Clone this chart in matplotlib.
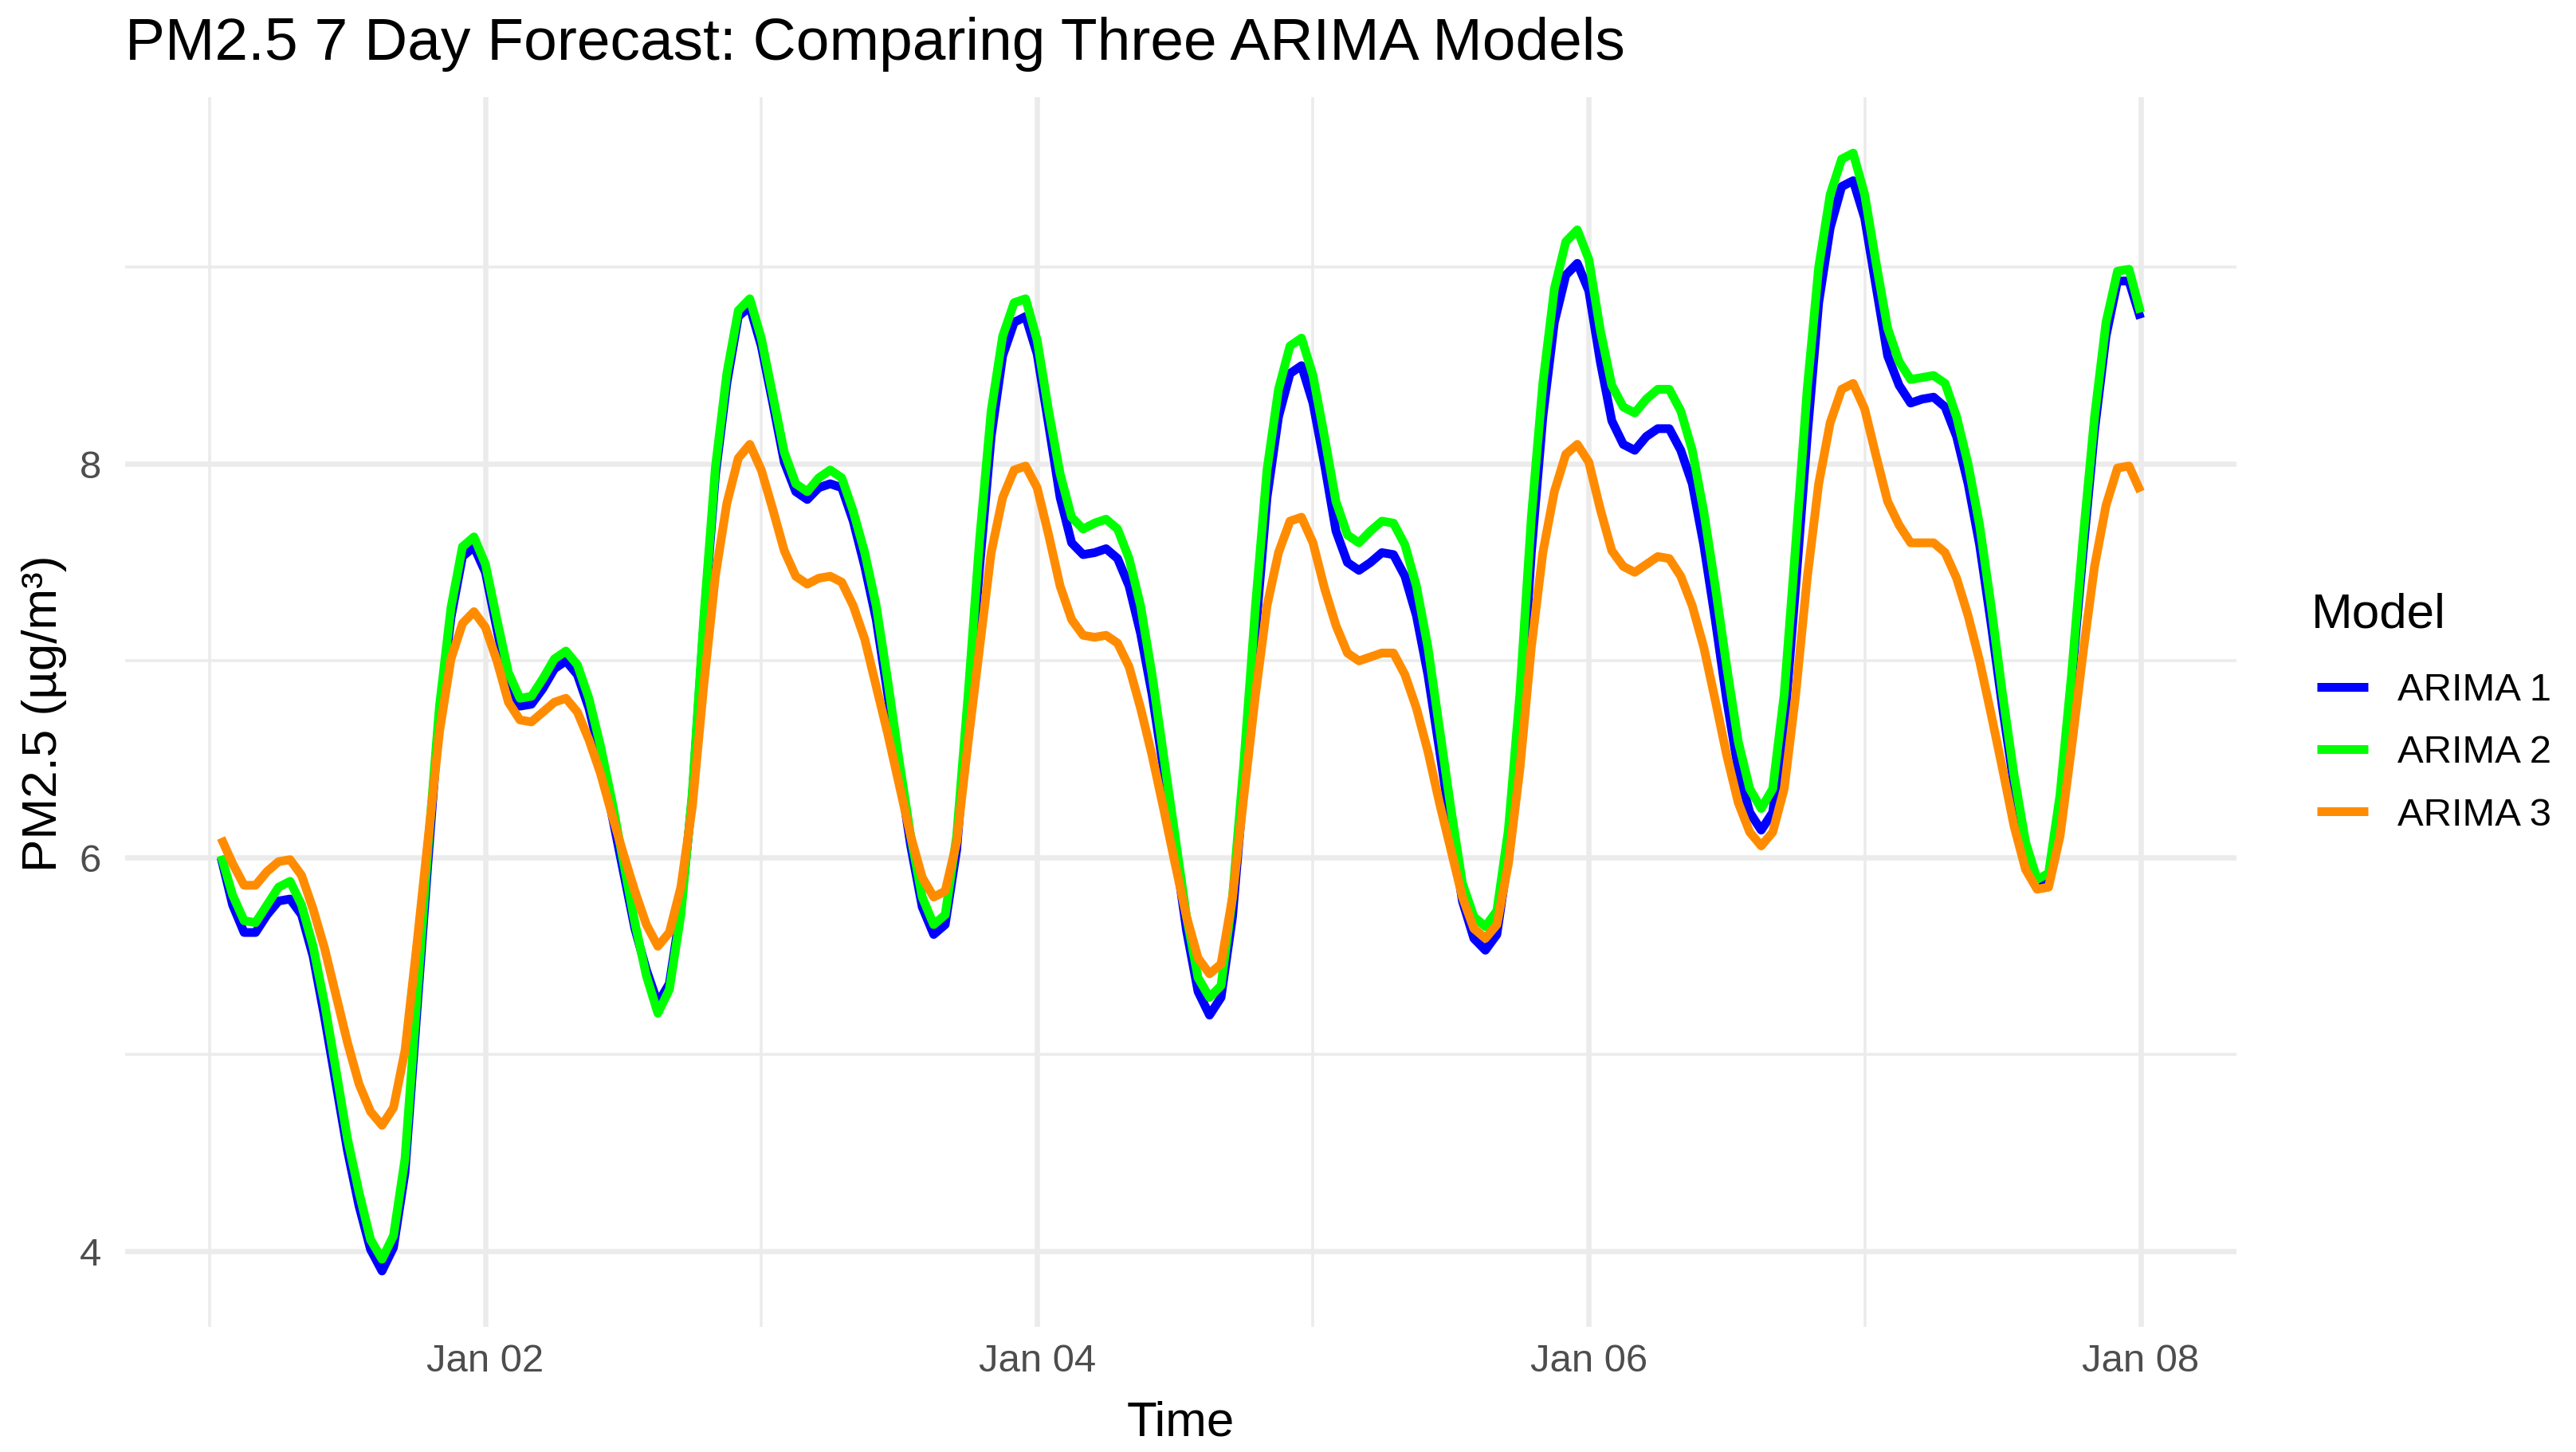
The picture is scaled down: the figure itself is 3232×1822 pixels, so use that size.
import numpy as np
import pandas as pd
import matplotlib
matplotlib.use("Agg")
import matplotlib.pyplot as plt
import matplotlib.dates as mdates

plt.rcParams['font.family'] = ['Liberation Sans', 'DejaVu Sans']

# hourly forecast, Jan 01 01:00 .. Jan 08 00:00
times = pd.date_range("2024-01-01 01:00", periods=168, freq="h")

arima1 = [
    6.00, 5.76, 5.62, 5.62, 5.71, 5.78, 5.79, 5.71, 5.50, 5.19, 4.85, 4.51,
    4.23, 4.01, 3.90, 4.02, 4.40, 5.19, 5.98, 6.74, 7.22, 7.53, 7.58, 7.45,
    7.16, 6.89, 6.77, 6.78, 6.86, 6.96, 7.00, 6.93, 6.76, 6.52, 6.22, 5.93,
    5.64, 5.43, 5.26, 5.36, 5.74, 6.31, 7.19, 7.94, 8.41, 8.75, 8.80, 8.60,
    8.31, 8.01, 7.86, 7.82, 7.88, 7.90, 7.88, 7.71, 7.48, 7.21, 6.83, 6.44,
    6.06, 5.75, 5.61, 5.66, 6.04, 6.76, 7.48, 8.14, 8.55, 8.72, 8.75, 8.56,
    8.20, 7.83, 7.60, 7.54, 7.55, 7.57, 7.52, 7.38, 7.14, 6.83, 6.45, 6.04,
    5.63, 5.32, 5.20, 5.29, 5.70, 6.38, 7.14, 7.83, 8.24, 8.46, 8.50, 8.31,
    8.00, 7.66, 7.50, 7.46, 7.50, 7.55, 7.54, 7.43, 7.23, 6.93, 6.55, 6.16,
    5.78, 5.59, 5.53, 5.61, 6.01, 6.66, 7.55, 8.24, 8.72, 8.96, 9.02, 8.88,
    8.52, 8.22, 8.10, 8.07, 8.14, 8.18, 8.18, 8.07, 7.90, 7.59, 7.21, 6.80,
    6.45, 6.23, 6.14, 6.23, 6.66, 7.38, 8.14, 8.82, 9.20, 9.41, 9.44, 9.25,
    8.90, 8.55, 8.40, 8.31, 8.33, 8.34, 8.29, 8.14, 7.90, 7.59, 7.19, 6.76,
    6.37, 6.04, 5.87, 5.90, 6.28, 6.90, 7.55, 8.17, 8.65, 8.93, 8.93, 8.74,
]

arima2 = [
    6.01, 5.81, 5.68, 5.67, 5.76, 5.85, 5.88, 5.76, 5.55, 5.26, 4.92, 4.57,
    4.30, 4.06, 3.96, 4.08, 4.47, 5.26, 6.05, 6.77, 7.27, 7.58, 7.63, 7.49,
    7.21, 6.94, 6.81, 6.82, 6.91, 7.01, 7.05, 6.98, 6.81, 6.57, 6.29, 5.98,
    5.67, 5.40, 5.21, 5.33, 5.71, 6.33, 7.22, 7.98, 8.46, 8.78, 8.84, 8.64,
    8.35, 8.06, 7.90, 7.86, 7.93, 7.97, 7.93, 7.76, 7.55, 7.28, 6.90, 6.49,
    6.11, 5.80, 5.66, 5.71, 6.11, 6.83, 7.62, 8.27, 8.65, 8.82, 8.84, 8.63,
    8.27, 7.95, 7.73, 7.67, 7.70, 7.72, 7.67, 7.52, 7.28, 6.93, 6.52, 6.11,
    5.70, 5.39, 5.29, 5.35, 5.80, 6.49, 7.28, 7.97, 8.38, 8.60, 8.64, 8.45,
    8.14, 7.81, 7.64, 7.60, 7.66, 7.71, 7.70, 7.59, 7.38, 7.07, 6.66, 6.25,
    5.87, 5.70, 5.65, 5.73, 6.14, 6.83, 7.73, 8.41, 8.89, 9.13, 9.19, 9.04,
    8.68, 8.40, 8.29, 8.26, 8.33, 8.38, 8.38, 8.27, 8.07, 7.76, 7.38, 6.97,
    6.59, 6.35, 6.25, 6.35, 6.83, 7.59, 8.38, 9.00, 9.37, 9.55, 9.58, 9.37,
    9.02, 8.69, 8.52, 8.43, 8.44, 8.45, 8.41, 8.24, 8.00, 7.69, 7.28, 6.83,
    6.42, 6.08, 5.89, 5.92, 6.32, 6.93, 7.62, 8.24, 8.72, 8.98, 8.99, 8.77,
]

arima3 = [
    6.10, 5.97, 5.86, 5.86, 5.93, 5.98, 5.99, 5.91, 5.74, 5.54, 5.30, 5.06,
    4.85, 4.71, 4.64, 4.73, 5.02, 5.54, 6.09, 6.64, 7.01, 7.19, 7.25, 7.17,
    7.00, 6.79, 6.70, 6.69, 6.74, 6.79, 6.81, 6.74, 6.60, 6.43, 6.22, 6.02,
    5.83, 5.66, 5.55, 5.62, 5.85, 6.26, 6.88, 7.43, 7.80, 8.03, 8.10, 7.97,
    7.77, 7.56, 7.43, 7.39, 7.42, 7.43, 7.40, 7.28, 7.11, 6.87, 6.63, 6.37,
    6.11, 5.90, 5.80, 5.83, 6.08, 6.59, 7.07, 7.55, 7.83, 7.97, 7.99, 7.88,
    7.64, 7.38, 7.21, 7.13, 7.12, 7.13, 7.09, 6.97, 6.76, 6.52, 6.25, 5.97,
    5.70, 5.49, 5.41, 5.46, 5.80, 6.32, 6.83, 7.28, 7.55, 7.71, 7.73, 7.60,
    7.37, 7.18, 7.04, 7.00, 7.02, 7.04, 7.04, 6.93, 6.76, 6.54, 6.28, 6.04,
    5.80, 5.64, 5.59, 5.66, 5.97, 6.45, 7.07, 7.55, 7.86, 8.05, 8.10, 8.01,
    7.77, 7.56, 7.48, 7.45, 7.49, 7.53, 7.52, 7.43, 7.28, 7.07, 6.80, 6.52,
    6.28, 6.13, 6.06, 6.13, 6.35, 6.83, 7.42, 7.90, 8.21, 8.38, 8.41, 8.28,
    8.04, 7.81, 7.69, 7.60, 7.60, 7.60, 7.55, 7.42, 7.23, 7.00, 6.73, 6.45,
    6.16, 5.94, 5.84, 5.85, 6.11, 6.56, 7.04, 7.48, 7.79, 7.98, 7.99, 7.86,
]

model_names = ["ARIMA 1", "ARIMA 2", "ARIMA 3"]
model_colors = ["#0000FF", "#00FF00", "#FF8C00"]

W, H, DPI = 3232, 1822, 200
px = 72.0 / DPI  # points per pixel

fig = plt.figure(figsize=(W / DPI, H / DPI), dpi=DPI)
# panel box in pixels: left 157, right 2806, top 122, bottom 1665
ax = fig.add_axes([157 / W, 1 - 1665 / H, (2806 - 157) / W, (1665 - 122) / H])

for vals, name, col in zip([arima1, arima2, arima3], model_names, model_colors):
    ax.plot(times, vals, color=col, lw=11 * px, label=name,
            solid_joinstyle='round', solid_capstyle='butt', zorder=3)

# ggplot-like 5% expansion
xnum = mdates.date2num(times)
xr = xnum[-1] - xnum[0]
ax.set_xlim(xnum[0] - 0.05 * xr, xnum[-1] + 0.05 * xr)
allv = np.concatenate([arima1, arima2, arima3])
yr = allv.max() - allv.min()
ax.set_ylim(allv.min() - 0.05 * yr, allv.max() + 0.05 * yr)

ax.xaxis.set_major_locator(mdates.DayLocator(bymonthday=[2, 4, 6, 8]))
ax.xaxis.set_minor_locator(mdates.DayLocator(bymonthday=[1, 3, 5, 7]))
ax.xaxis.set_major_formatter(mdates.DateFormatter('%b %d'))
ax.set_yticks([4, 6, 8])
ax.set_yticks([5, 7, 9], minor=True)

grid_col = '#EBEBEB'
ax.grid(which='major', color=grid_col, lw=6.5 * px, zorder=0)
ax.grid(which='minor', color=grid_col, lw=3.5 * px, zorder=0)
ax.set_axisbelow(True)
for s in ax.spines.values():
    s.set_visible(False)

tick_fs = 49 * px
ax.tick_params(axis='both', which='both', length=0, labelsize=tick_fs,
               labelcolor='#4D4D4D')
ax.tick_params(axis='x', pad=21 * px)
ax.tick_params(axis='y', pad=30 * px)

base_fs = 62 * px
ax.set_xlabel("Time", fontsize=base_fs, va='baseline')
ax.xaxis.set_label_coords(0.5, -(1802 - 1665) / (1665 - 122))
ax.set_ylabel("PM2.5 (µg/m³)", fontsize=base_fs, va='center', ha='center')
ax.yaxis.set_label_coords((56 - 157) / (2806 - 157), (1665 - 895) / (1665 - 122))

ax.set_title("PM2.5 7 Day Forecast: Comparing Three ARIMA Models", loc='left',
             fontsize=75 * px, pad=47 * px)

# legend: title as separate text, entries below
fig.text(2900 / W, 1 - 787 / H, "Model", fontsize=base_fs, ha='left',
         va='baseline')
leg = fig.legend(loc='upper left', bbox_to_anchor=(2907 / W, 1 - 844 / H),
                 frameon=False, fontsize=tick_fs, handlelength=64 / 49,
                 handletextpad=37 / 49, labelspacing=0.68, borderpad=0,
                 borderaxespad=0)

fig.savefig("out.png", dpi=DPI, facecolor='white')
